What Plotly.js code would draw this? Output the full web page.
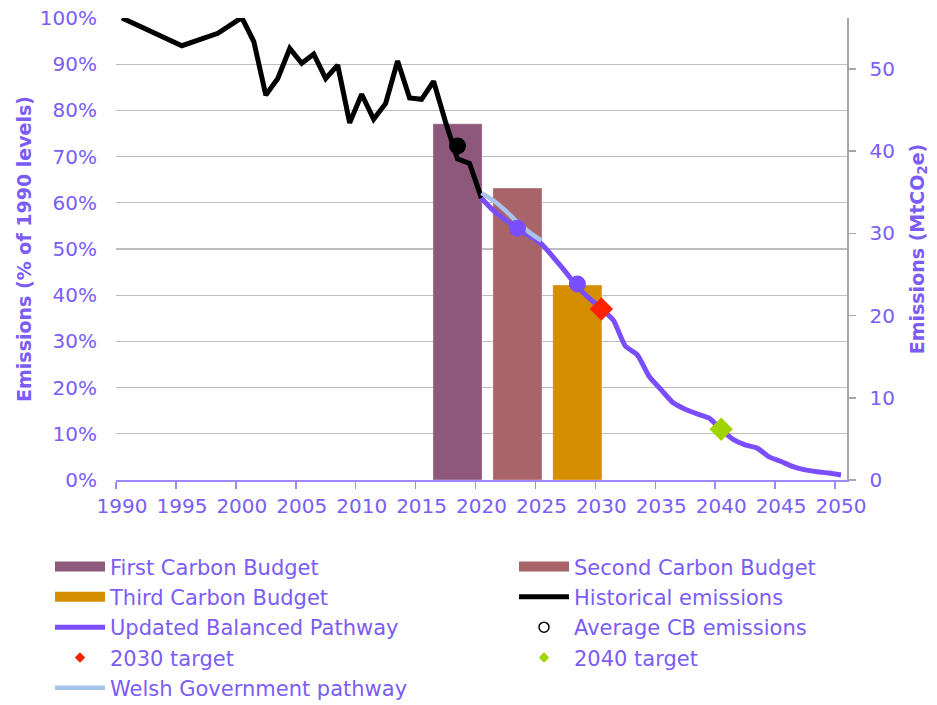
<!DOCTYPE html>
<html>
<head>
<meta charset="utf-8">
<script src="https://cdn.plot.ly/plotly-3.0.1.min.js"></script>
<style>html,body{margin:0;padding:0;background:#fff;}</style>
</head>
<body>
<div id="chart" style="width:937px;height:705px;"></div>
<script>
// ---- data (% of 1990 levels) ----
const budgetYears = [2018, 2023, 2028];
const budgetNames = ["First Carbon Budget", "Second Carbon Budget", "Third Carbon Budget"];
const budgetValues = [77.1, 63.2, 42.2];

const histYears = [1990, 1995, 1998, 1999, 2000, 2001, 2002, 2003, 2004, 2005, 2006, 2007, 2008, 2009, 2010, 2011, 2012, 2013, 2014, 2015, 2016, 2017, 2018, 2019, 2020];
const histValues = [100, 94.0, 96.7, 98.5, 100.1, 94.9, 83.3, 86.9, 93.4, 90.2, 92.2, 86.9, 89.8, 77.3, 83.5, 78.1, 81.5, 90.7, 82.7, 82.4, 86.3, 77.5, 69.5, 68.5, 61.0];

const pathYears = [2020, 2021, 2022, 2023, 2024, 2025, 2026, 2027, 2028, 2029, 2030, 2031, 2032, 2033, 2034, 2035, 2036, 2037, 2038, 2039, 2040, 2041, 2042, 2043, 2044, 2045, 2046, 2047, 2048, 2049, 2050];
const pathValues = [61.0, 58.3, 56.3, 54.3, 52.9, 51.1, 48.2, 45.1, 41.8, 39.3, 37.1, 34.6, 29.0, 27.1, 22.4, 19.5, 16.7, 15.3, 14.3, 13.4, 10.9, 8.8, 7.6, 6.9, 5.0, 4.0, 2.9, 2.2, 1.8, 1.5, 1.1];

const welshYears = [2020, 2021, 2022, 2023, 2024, 2025];
const welshValues = [62.1, 60.5, 58.3, 55.8, 53.6, 51.8];

const avgYears = [2018, 2023, 2028];
const avgValues = [72.3, 54.5, 42.4];

const target2030Year = [2030];
const target2030Value = [37.0];
const target2040Year = [2040];
const target2040Value = [11.0];

const xTickYears = [1990, 1995, 2000, 2005, 2010, 2015, 2020, 2025, 2030, 2035, 2040, 2045, 2050];
const xTickLabels = ["1990", "1995", "2000", "2005", "2010", "2015", "2020", "2025", "2030", "2035", "2040", "2045", "2050"];
const yTicks = [0, 10, 20, 30, 40, 50, 60, 70, 80, 90, 100];
const yTickLabels = ["0%", "10%", "20%", "30%", "40%", "50%", "60%", "70%", "80%", "90%", "100%"];
const y2Ticks = [0, 10, 20, 30, 40, 50];
const y2TickLabels = ["0", "10", "20", "30", "40", "50"];
const y2Max = 56.2; // MtCO2e equivalent of 100%

// ---- styles ----
const TXT = "#7B5CF5";
const PURPLE = "#7A4DFF";
const FONT = "DejaVu Sans";
const barColors = ["#8E587C", "#A86468", "#D48E00"];
const barLegend = ["legend", "legend2", "legend"];

const traces = [];
budgetNames.forEach((n, i) => {
  traces.push({
    type: "bar", name: n, x: [budgetYears[i]], y: [budgetValues[i]], width: 4.1,
    marker: { color: barColors[i], line: { color: "rgba(255,255,255,0.35)", width: 1 } },
    showlegend: false, legendgroup: "b" + i, hoverinfo: "skip"
  });
});
traces.push({
  type: "scatter", mode: "lines", name: "Historical emissions", x: histYears, y: histValues,
  line: { color: "#000", width: 5 }, legend: "legend2", legendrank: 2, hoverinfo: "skip"
});
traces.push({
  type: "scatter", mode: "lines", name: "Updated Balanced Pathway", x: pathYears, y: pathValues,
  line: { color: PURPLE, width: 5, shape: "spline", smoothing: 0.6 }, legend: "legend", legendrank: 3, hoverinfo: "skip"
});
traces.push({
  type: "scatter", mode: "lines", name: "Welsh Government pathway", x: welshYears, y: welshValues,
  line: { color: "#A9C4EB", width: 4.5, shape: "spline", smoothing: 0.6 }, legend: "legend", legendrank: 5, hoverinfo: "skip"
});
traces.push({
  type: "scatter", mode: "markers", name: "Average CB emissions", x: avgYears, y: avgValues,
  marker: { color: ["#000", PURPLE, PURPLE], size: 17, symbol: "circle" },
  showlegend: false, legendgroup: "avg", hoverinfo: "skip"
});
traces.push({
  type: "scatter", mode: "markers", name: "2030 target", x: target2030Year, y: target2030Value,
  marker: { color: "#FF2200", size: 18, symbol: "diamond" },
  showlegend: false, legendgroup: "t30", hoverinfo: "skip"
});
traces.push({
  type: "scatter", mode: "markers", name: "2040 target", x: target2040Year, y: target2040Value,
  marker: { color: "#9FD400", size: 18, symbol: "diamond" },
  showlegend: false, legendgroup: "t40", hoverinfo: "skip"
});
// legend-only entries
budgetNames.forEach((n, i) => {
  traces.push({
    type: "scatter", mode: "lines", name: n, x: [null], y: [null],
    line: { color: barColors[i], width: 10 }, legendgroup: "b" + i,
    legend: barLegend[i], legendrank: i === 2 ? 2 : 1, hoverinfo: "skip"
  });
});
traces.push({
  type: "scatter", mode: "markers", name: "Average CB emissions", x: [null], y: [null],
  marker: { color: "#fff", size: 10, symbol: "circle", line: { color: "#000", width: 1.5 } },
  legendgroup: "avg", legend: "legend2", legendrank: 3, hoverinfo: "skip"
});
traces.push({
  type: "scatter", mode: "markers", name: "2030 target", x: [null], y: [null],
  marker: { color: "#FF2200", size: 8, symbol: "diamond" },
  legendgroup: "t30", legend: "legend", legendrank: 4, hoverinfo: "skip"
});
traces.push({
  type: "scatter", mode: "markers", name: "2040 target", x: [null], y: [null],
  marker: { color: "#9FD400", size: 8, symbol: "diamond" },
  legendgroup: "t40", legend: "legend2", legendrank: 4, hoverinfo: "skip"
});
// right axis holder
traces.push({
  type: "scatter", mode: "lines", x: [null], y: [null], yaxis: "y2",
  showlegend: false, hoverinfo: "skip"
});

const PL = 116, PR = 847, PT = 18, PB = 480;
const legendCommon = {
  orientation: "v", xref: "paper", yref: "paper",
  y: (PB - 546.4) / (PB - PT), xanchor: "left", yanchor: "top",
  itemwidth: 50, tracegroupgap: 0,
  font: { family: FONT, color: TXT, size: 21 },
  traceorder: "normal", bgcolor: "rgba(0,0,0,0)", borderwidth: 0
};

const layout = {
  width: 937, height: 705,
  margin: { l: PL, r: 937 - PR, t: PT, b: 705 - PB, autoexpand: false },
  paper_bgcolor: "#fff", plot_bgcolor: "#fff",
  font: { family: FONT, color: TXT, size: 20 },
  barmode: "overlay",
  showlegend: true,
  xaxis: {
    range: [1989.5, 2050.5],
    tickmode: "array", tickvals: xTickYears, ticktext: xTickLabels,
    ticks: "", ticklabelstandoff: 7,
    showgrid: false, zeroline: false,
    showline: true, linecolor: "#9F88FF", linewidth: 2,
    tickfont: { family: FONT, color: TXT, size: 20 },
    minor: {
      tickmode: "array", tickvals: xTickYears.map(v => v - 0.5),
      ticks: "outside", ticklen: 7, tickwidth: 1.5, tickcolor: "#9F88FF", showgrid: false
    }
  },
  yaxis: {
    range: [0, 100], tickmode: "array", tickvals: yTicks, ticktext: yTickLabels,
    showgrid: true, gridcolor: "#BDBDBD", gridwidth: 1.3,
    zeroline: false, showline: false, ticks: "", ticklabelstandoff: 18,
    tickfont: { family: FONT, color: TXT, size: 20 },
    title: { text: "Emissions (% of 1990 levels)", font: { family: FONT, color: TXT, size: 19, weight: "bold" }, standoff: 3 }
  },
  yaxis2: {
    overlaying: "y", side: "right", anchor: "x",
    range: [0, y2Max], tickmode: "array", tickvals: y2Ticks, ticktext: y2TickLabels,
    showgrid: false, zeroline: false,
    showline: true, linecolor: "#A6A6A6", linewidth: 1.5,
    ticks: "outside", ticklen: 7, tickcolor: "#A6A6A6", tickwidth: 1.5,
    ticklabelstandoff: 10,
    tickfont: { family: FONT, color: TXT, size: 20 },
    title: { text: "Emissions (MtCO<sub>2</sub>e)", font: { family: FONT, color: TXT, size: 19, weight: "bold" }, standoff: 16 }
  },
  legend: Object.assign({}, legendCommon, { x: (50 - PL) / (PR - PL) }),
  legend2: Object.assign({}, legendCommon, { x: (514 - PL) / (PR - PL) })
};

Plotly.newPlot("chart", traces, layout, { displayModeBar: false, staticPlot: true });
</script>
</body>
</html>
